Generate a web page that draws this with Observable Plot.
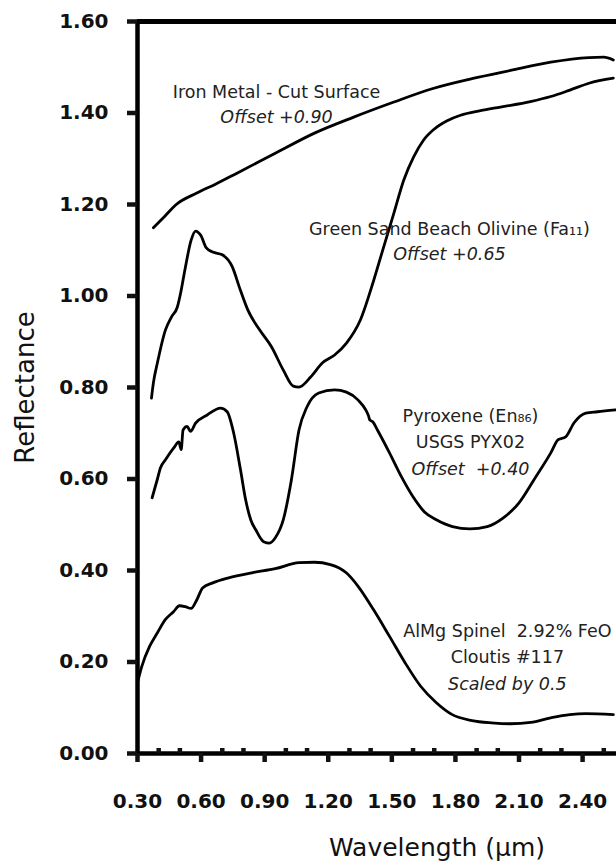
<!DOCTYPE html>
<html>
<head>
<meta charset="utf-8">
<script src="https://cdn.jsdelivr.net/npm/d3@7"></script>
<script src="https://cdn.jsdelivr.net/npm/@observablehq/plot@0.6"></script>
<style>
  html, body { margin: 0; padding: 0; background: #fff; }
  #chart svg text { white-space: pre; }
  #chart [aria-label="y-axis tick label"], #chart [aria-label="x-axis tick label"] { font-weight: bold; }
</style>
</head>
<body>
<div id="chart"></div>
<script>
// ---- data ----
const ironWl = [0.375, 0.43, 0.48, 0.58, 0.67, 0.767, 0.95, 1.135, 1.32, 1.51, 1.69, 1.878, 2.06, 2.25, 2.43, 2.50, 2.545];
const ironR  = [1.149, 1.175, 1.199, 1.225, 1.245, 1.268, 1.312, 1.356, 1.391, 1.424, 1.453, 1.475, 1.493, 1.511, 1.521, 1.522, 1.516];

const olivineWl = [0.366, 0.375, 0.394, 0.432, 0.46, 0.488, 0.505, 0.526, 0.553, 0.574, 0.598, 0.625, 0.655, 0.70, 0.748, 0.78, 0.821, 0.876, 0.932, 0.988, 1.035, 1.062, 1.117, 1.173, 1.23, 1.286, 1.352, 1.415, 1.462, 1.509, 1.556, 1.603, 1.65, 1.698, 1.761, 1.824, 1.918, 2.012, 2.154, 2.25, 2.34, 2.43, 2.545];
const olivineR  = [0.777, 0.81, 0.854, 0.926, 0.954, 0.976, 1.01, 1.063, 1.122, 1.142, 1.133, 1.105, 1.096, 1.09, 1.063, 1.02, 0.969, 0.926, 0.889, 0.838, 0.803, 0.801, 0.823, 0.854, 0.871, 0.897, 0.948, 1.035, 1.108, 1.18, 1.253, 1.304, 1.341, 1.364, 1.383, 1.395, 1.405, 1.413, 1.425, 1.436, 1.45, 1.465, 1.476];

const pyroxeneWl = [0.369, 0.394, 0.408, 0.432, 0.471, 0.495, 0.506, 0.515, 0.534, 0.55, 0.574, 0.629, 0.692, 0.723, 0.754, 0.786, 0.81, 0.835, 0.858, 0.895, 0.923, 0.951, 0.988, 1.026, 1.062, 1.10, 1.155, 1.23, 1.286, 1.34, 1.377, 1.39, 1.396, 1.41, 1.432, 1.489, 1.545, 1.60, 1.654, 1.71, 1.786, 1.868, 1.95, 2.026, 2.10, 2.17, 2.25, 2.285, 2.32, 2.36, 2.415, 2.47, 2.555];
const pyroxeneR  = [0.559, 0.60, 0.624, 0.642, 0.668, 0.681, 0.664, 0.707, 0.715, 0.704, 0.722, 0.74, 0.755, 0.747, 0.70, 0.62, 0.555, 0.51, 0.489, 0.463, 0.46, 0.472, 0.511, 0.598, 0.707, 0.758, 0.788, 0.795, 0.79, 0.773, 0.751, 0.738, 0.729, 0.725, 0.707, 0.657, 0.605, 0.561, 0.528, 0.511, 0.496, 0.491, 0.496, 0.515, 0.548, 0.598, 0.657, 0.686, 0.692, 0.723, 0.744, 0.747, 0.751];

const spinelWl = [0.30, 0.32, 0.357, 0.394, 0.432, 0.47, 0.498, 0.525, 0.553, 0.58, 0.607, 0.655, 0.73, 0.84, 0.95, 1.062, 1.135, 1.21, 1.285, 1.34, 1.414, 1.489, 1.563, 1.636, 1.71, 1.785, 1.878, 1.97, 2.06, 2.155, 2.25, 2.34, 2.415, 2.545];
const spinelR  = [0.155, 0.19, 0.234, 0.264, 0.293, 0.31, 0.323, 0.321, 0.317, 0.336, 0.362, 0.373, 0.384, 0.395, 0.404, 0.417, 0.418, 0.413, 0.395, 0.366, 0.314, 0.256, 0.198, 0.147, 0.111, 0.085, 0.072, 0.067, 0.065, 0.068, 0.078, 0.085, 0.087, 0.085];

const yTicks = [0, 0.2, 0.4, 0.6, 0.8, 1.0, 1.2, 1.4, 1.6];
const xMajorTicks = [0.3, 0.6, 0.9, 1.2, 1.5, 1.8, 2.1, 2.4];
const xMinorTicks = [0.4, 0.5, 0.7, 0.8, 1.0, 1.1, 1.3, 1.4, 1.6, 1.7, 1.9, 2.0, 2.2, 2.3, 2.5];

const labelText   = ["Iron Metal - Cut Surface", "Offset +0.90", "Green Sand Beach Olivine (Fa\u2081\u2081)", "Offset +0.65", "Pyroxene (En\u2088\u2086)", "USGS PYX02", "Offset  +0.40", "AlMg Spinel  2.92% FeO", "Cloutis #117", "Scaled by 0.5"];
const labelWl     = [0.956, 0.956, 1.772, 1.772, 1.871, 1.871, 1.871, 2.045, 2.045, 2.045];
const labelR      = [1.445, 1.391, 1.146, 1.090, 0.736, 0.679, 0.620, 0.266, 0.210, 0.151];
const labelItalic = [false, true, false, true, false, false, true, false, false, true];

const xTitle = "Wavelength (\u00b5m)";
const yTitle = "Reflectance";

// ---- build tables ----
const toRows = (name, wl, r) => wl.map((w, i) => ({series: name, wl: w, r: r[i]}));
const spectra = [
  ...toRows("iron", ironWl, ironR),
  ...toRows("olivine", olivineWl, olivineR),
  ...toRows("pyroxene", pyroxeneWl, pyroxeneR),
  ...toRows("spinel", spinelWl, spinelR)
];
const labels = labelText.map((t, i) => ({text: t, wl: labelWl[i], r: labelR[i], italic: labelItalic[i]}));

const font = "DejaVu Sans";

const chart = Plot.plot({
  width: 616,
  height: 862,
  marginLeft: 137,
  marginRight: 0,
  marginTop: 21,
  marginBottom: 109,
  style: {fontFamily: font, color: "#111", background: "#fff", overflow: "visible"},
  x: {domain: [0.3, 2.56]},
  y: {domain: [0, 1.6]},
  marks: [
    Plot.line(spectra, {x: "wl", y: "r", z: "series", stroke: "#000", strokeWidth: 2.8, curve: "monotone-x"}),
    Plot.text(labels.filter(d => !d.italic), {x: "wl", y: "r", text: "text", fontSize: 17.5, fill: "#222"}),
    Plot.text(labels.filter(d => d.italic), {x: "wl", y: "r", text: "text", fontSize: 17.5, fontStyle: "italic", fill: "#222"}),
    Plot.ruleY([1.6], {stroke: "#000", strokeWidth: 5}),
    Plot.ruleY([0], {stroke: "#000", strokeWidth: 4.5}),
    Plot.ruleX([0.3], {stroke: "#000", strokeWidth: 4.5}),
    Plot.axisY({ticks: yTicks, tickFormat: d3.format(".2f"), tickSize: 10, tickPadding: 19, strokeWidth: 4.5, fontSize: 20, fontWeight: "bold", label: null}),
    Plot.axisX({ticks: xMajorTicks, tickFormat: d3.format(".2f"), tickSize: 9, tickPadding: 31, strokeWidth: 4.5, fontSize: 20, fontWeight: "bold", label: null}),
    Plot.axisX({ticks: xMinorTicks, tickSize: 5, dy: -5, strokeWidth: 4.5, text: null, label: null}),
    Plot.text([xTitle], {frameAnchor: "bottom", text: d => d, textAnchor: "middle", lineAnchor: "middle", dx: 60, dy: 94, fontSize: 25}),
    Plot.text([yTitle], {frameAnchor: "left", text: d => d, textAnchor: "middle", lineAnchor: "middle", rotate: -90, dx: -112, fontSize: 26})
  ]
});
document.getElementById("chart").appendChild(chart);
</script>
</body>
</html>
